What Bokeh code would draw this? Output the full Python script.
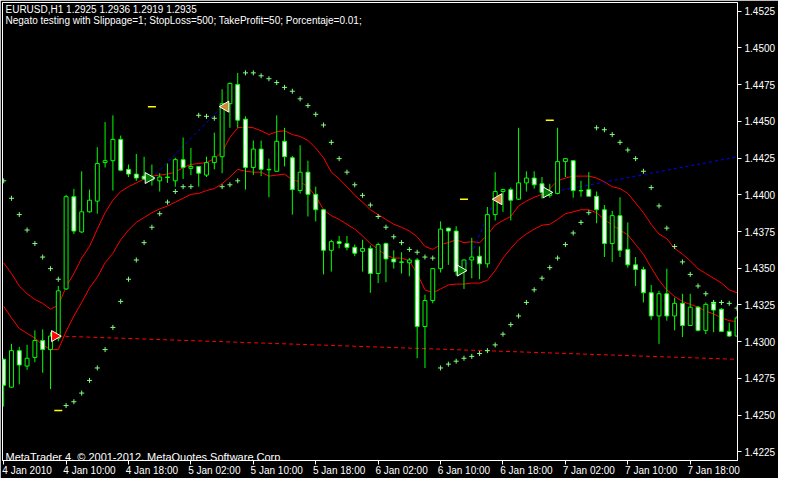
import numpy as np
from bokeh.plotting import figure
from bokeh.models import Range1d, LinearAxis, FixedTicker, PrintfTickFormatter, Label
from bokeh.embed import file_html
from bokeh.resources import INLINE

# ---------------- data (EURUSD H1, bar index 0 = 4 Jan 2010 first visible bar) -------------
open_ = [1.42880, 1.42690, 1.42939, 1.42834, 1.42893, 1.43008, 1.42946, 1.43024, 1.43359, 1.43987,
         1.43747, 1.43884, 1.43957, 1.44219, 1.44232, 1.44377, 1.44173, 1.44141, 1.44127, 1.44101,
         1.44095, 1.44121, 1.44095, 1.44239, 1.44180, 1.44193, 1.44134, 1.44219, 1.44259, 1.44620,
         1.44751, 1.44515, 1.44186, 1.44311, 1.44173, 1.44160, 1.44364, 1.44252, 1.44029, 1.44154,
         1.44003, 1.43898, 1.43622, 1.43681, 1.43668, 1.43642, 1.43615, 1.43635, 1.43464, 1.43668,
         1.43563, 1.43543, 1.43537, 1.43556, 1.43103, 1.43280, 1.43497, 1.43773, 1.43753, 1.43477,
         1.43556, 1.43582, 1.43530, 1.43865, 1.44022, 1.44035, 1.43970, 1.44081, 1.44114, 1.44075,
         1.43996, 1.44009, 1.44226, 1.44232, 1.44029, 1.44035, 1.43990, 1.43898, 1.43668, 1.43858,
         1.43628, 1.43523, 1.43491, 1.43333, 1.43175, 1.43326, 1.43175, 1.43261, 1.43110, 1.43235,
         1.43077, 1.43261, 1.43221, 1.43070, 1.43038]
high = [1.42887, 1.42985, 1.42965, 1.42979, 1.43077, 1.43084, 1.43064, 1.43379, 1.44000, 1.44040,
        1.44160, 1.44035, 1.44324, 1.44495, 1.44541, 1.44403, 1.44206, 1.44278, 1.44259, 1.44206,
        1.44147, 1.44213, 1.44252, 1.44390, 1.44318, 1.44196, 1.44259, 1.44423, 1.44718, 1.44764,
        1.44830, 1.44534, 1.44370, 1.44370, 1.44246, 1.44541, 1.44456, 1.44265, 1.44337, 1.44232,
        1.44055, 1.43904, 1.43694, 1.43720, 1.43720, 1.43661, 1.43694, 1.43655, 1.43674, 1.43674,
        1.43622, 1.43609, 1.43569, 1.43569, 1.43320, 1.43500, 1.43819, 1.43776, 1.43786, 1.43560,
        1.43707, 1.43648, 1.43917, 1.44154, 1.44040, 1.44049, 1.44456, 1.44160, 1.44160, 1.44121,
        1.44075, 1.44456, 1.44246, 1.44235, 1.44095, 1.44154, 1.44022, 1.43930, 1.43891, 1.43983,
        1.43812, 1.43576, 1.43510, 1.43386, 1.43346, 1.43497, 1.43300, 1.43326, 1.43326, 1.43243,
        1.43267, 1.43274, 1.43228, 1.43130, 1.43175]
low = [1.42558, 1.42685, 1.42709, 1.42808, 1.42860, 1.42788, 1.42677, 1.43002, 1.43352, 1.43733,
       1.43740, 1.43878, 1.43871, 1.44186, 1.44029, 1.44160, 1.44121, 1.44095, 1.44101, 1.44062,
       1.44022, 1.44081, 1.44055, 1.44108, 1.44134, 1.44055, 1.44121, 1.44173, 1.44147, 1.44456,
       1.44456, 1.44035, 1.44134, 1.44127, 1.43983, 1.44160, 1.44193, 1.43865, 1.44009, 1.43852,
       1.43819, 1.43458, 1.43477, 1.43635, 1.43622, 1.43582, 1.43477, 1.43333, 1.43399, 1.43405,
       1.43497, 1.43464, 1.43445, 1.42887, 1.42821, 1.43261, 1.43471, 1.43523, 1.43451, 1.43359,
       1.43431, 1.43425, 1.43504, 1.43825, 1.43884, 1.43825, 1.43965, 1.44022, 1.44042, 1.43974,
       1.43980, 1.44003, 1.44121, 1.43980, 1.43987, 1.44000, 1.43806, 1.43576, 1.43543, 1.43576,
       1.43504, 1.43379, 1.43267, 1.43149, 1.42985, 1.43143, 1.43077, 1.43031, 1.43107, 1.43070,
       1.43051, 1.43064, 1.43065, 1.43031, 1.43035]
close = [1.42703, 1.42939, 1.42841, 1.42887, 1.43008, 1.42946, 1.43038, 1.43346, 1.43987, 1.43753,
         1.43884, 1.43963, 1.44213, 1.44232, 1.44377, 1.44167, 1.44141, 1.44114, 1.44108, 1.44121,
         1.44121, 1.44118, 1.44239, 1.44186, 1.44193, 1.44147, 1.44219, 1.44259, 1.44620, 1.44758,
         1.44508, 1.44186, 1.44311, 1.44173, 1.44170, 1.44364, 1.44259, 1.44035, 1.44154, 1.44003,
         1.43898, 1.43622, 1.43681, 1.43668, 1.43642, 1.43602, 1.43635, 1.43464, 1.43661, 1.43563,
         1.43543, 1.43540, 1.43556, 1.43103, 1.43280, 1.43497, 1.43766, 1.43753, 1.43477, 1.43556,
         1.43576, 1.43530, 1.43865, 1.44022, 1.44035, 1.43963, 1.44081, 1.44114, 1.44068, 1.44016,
         1.44022, 1.44226, 1.44246, 1.44029, 1.44026, 1.43990, 1.43898, 1.43668, 1.43858, 1.43622,
         1.43523, 1.43491, 1.43333, 1.43175, 1.43326, 1.43175, 1.43261, 1.43110, 1.43235, 1.43077,
         1.43254, 1.43215, 1.43070, 1.43038, 1.43162]
upper_band = [1.43537, 1.43464, 1.43379, 1.43326, 1.43287, 1.43261, 1.43221, 1.43248, 1.43372, 1.43464,
              1.43569, 1.43648, 1.43766, 1.43878, 1.43963, 1.44022, 1.44055, 1.44081, 1.44108, 1.44127,
              1.44134, 1.44141, 1.44154, 1.44186, 1.44206, 1.44213, 1.44219, 1.44246, 1.44292, 1.44390,
              1.44456, 1.44462, 1.44456, 1.44436, 1.44410, 1.44429, 1.44436, 1.44410, 1.44397, 1.44370,
              1.44318, 1.44252, 1.44154, 1.44108, 1.44055, 1.43996, 1.43950, 1.43898, 1.43865, 1.43832,
              1.43799, 1.43779, 1.43753, 1.43714, 1.43648, 1.43628, 1.43661, 1.43674, 1.43694, 1.43674,
              1.43681, 1.43674, 1.43727, 1.43793, 1.43825, 1.43852, 1.43924, 1.43957, 1.43983, 1.44003,
              1.44042, 1.44095, 1.44114, 1.44127, 1.44127, 1.44127, 1.44114, 1.44088, 1.44055, 1.44042,
              1.44009, 1.43944, 1.43878, 1.43799, 1.43733, 1.43701, 1.43635, 1.43596, 1.43550, 1.43497,
              1.43464, 1.43432, 1.43399, 1.43353, 1.43333]
lower_band = [1.43241, 1.43162, 1.43090, 1.43057, 1.43024, 1.42978, 1.42946, 1.42946, 1.43070, 1.43175,
              1.43267, 1.43366, 1.43438, 1.43537, 1.43602, 1.43694, 1.43760, 1.43812, 1.43845, 1.43878,
              1.43904, 1.43924, 1.43950, 1.43976, 1.44003, 1.44009, 1.44029, 1.44042, 1.44075, 1.44121,
              1.44173, 1.44160, 1.44154, 1.44154, 1.44127, 1.44134, 1.44141, 1.44101, 1.44088, 1.44055,
              1.43990, 1.43898, 1.43858, 1.43832, 1.43799, 1.43766, 1.43720, 1.43668, 1.43628, 1.43589,
              1.43569, 1.43569, 1.43550, 1.43464, 1.43353, 1.43333, 1.43359, 1.43386, 1.43392, 1.43392,
              1.43399, 1.43399, 1.43418, 1.43484, 1.43569, 1.43635, 1.43694, 1.43733, 1.43766, 1.43793,
              1.43799, 1.43832, 1.43871, 1.43884, 1.43898, 1.43898, 1.43878, 1.43832, 1.43793, 1.43760,
              1.43727, 1.43661, 1.43596, 1.43504, 1.43418, 1.43353, 1.43307, 1.43274, 1.43254, 1.43235,
              1.43208, 1.43189, 1.43162, 1.43143, 1.43136]
sar = [1.44095, 1.43976, 1.43865, 1.43760, 1.43668, 1.43576, 1.43497, 1.43425, 1.42565, 1.42591,
       1.42650, 1.42736, 1.42821, 1.42946, 1.43097, 1.43274, 1.43425, 1.43556, 1.43674, 1.43779,
       1.43871, 1.43950, 1.44022, 1.44055, 1.44055, 1.44541, 1.44534, 1.44521, 1.44055, 1.44068,
       1.44095, 1.44830, 1.44830, 1.44810, 1.44790, 1.44764, 1.44731, 1.44705, 1.44653, 1.44607,
       1.44548, 1.44475, 1.44357, 1.44246, 1.44154, 1.44068, 1.43996, 1.43930, 1.43852, 1.43779,
       1.43714, 1.43674, 1.43628, 1.43609, 1.43576, 1.43569, 1.42821, 1.42847, 1.42867, 1.42887,
       1.42900, 1.42919, 1.42939, 1.42978, 1.43051, 1.43116, 1.43175, 1.43267, 1.43353, 1.43432,
       1.43504, 1.43569, 1.43661, 1.43740, 1.43812, 1.43878, 1.44456, 1.44443, 1.44410, 1.44357,
       1.44305, 1.44246, 1.44160, 1.44049, 1.43924, 1.43773, 1.43648, 1.43543, 1.43458, 1.43379,
       1.43326, 1.43267, 1.43267, 1.43261, 1.43228]

x_tick_bars = [0, 8, 16, 24, 32, 40, 48, 56, 64, 72, 80, 88]
x_tick_labels = ["4 Jan 2010", "4 Jan 10:00", "4 Jan 18:00", "5 Jan 02:00", "5 Jan 10:00",
                 "5 Jan 18:00", "6 Jan 02:00", "6 Jan 10:00", "6 Jan 18:00", "7 Jan 02:00",
                 "7 Jan 10:00", "7 Jan 18:00"]
y_ticks = [1.4225, 1.4250, 1.4275, 1.4300, 1.4325, 1.4350, 1.4375,
           1.4400, 1.4425, 1.4450, 1.4475, 1.4500, 1.4525]

trade_type = ["sell", "buy", "buy", "buy"]
trade_open_bar = [7, 19, 59, 70]
trade_open_price = [1.43038, 1.44114, 1.43484, 1.44016]
trade_close_bar = [95, 28, 63, 95]
trade_close_price = [1.42878, 1.44600, 1.43970, 1.44268]
trade_closed = [False, True, True, False]
trade_tp = [1.42532, 1.44600, 1.43970, 1.44508]

header_1 = "EURUSD,H1  1.2925 1.2936 1.2919 1.2935"
header_2 = "Negato testing with Slippage=1; StopLoss=500; TakeProfit=50; Porcentaje=0.01;"
footer = "MetaTrader 4, \u00a9 2001-2012, MetaQuotes Software Corp."

# ---------------- styling -------------
FONT = "Liberation Sans"
GREEN = "#00FF00"
SAR_COLOR = "#80FF80"

o = np.array(open_); h = np.array(high); l = np.array(low); c = np.array(close)
bars = np.arange(len(o))
bull = c > o
bear = ~bull

p = figure(width=778, height=478,
           x_range=Range1d(-0.15, 94.06), y_range=Range1d(1.42191, 1.45309),
           output_backend="svg", toolbar_location=None,
           x_axis_location=None, y_axis_location=None,
           background_fill_color="black", border_fill_color="black",
           outline_line_color="white", outline_line_width=1,
           min_border_left=2, min_border_top=2, min_border_right=0, min_border_bottom=0)
p.grid.grid_line_color = None

# right price axis
yaxis = LinearAxis(ticker=FixedTicker(ticks=y_ticks), formatter=PrintfTickFormatter(format="%.4f"))
yaxis.axis_line_color = "white"
yaxis.major_tick_line_color = "white"
yaxis.major_tick_in = 0
yaxis.major_tick_out = 4
yaxis.minor_tick_line_color = None
yaxis.major_label_text_color = "white"
yaxis.major_label_text_font = FONT
yaxis.major_label_text_font_size = "10px"
yaxis.major_label_standoff = 3
p.add_layout(yaxis, "right")

# bottom time axis: minor ticks mark the bars, labels start at each tick (MT4 style)
LABEL_SHIFT = 3
label_pos = [t + LABEL_SHIFT for t in x_tick_bars]
xaxis = LinearAxis(ticker=FixedTicker(ticks=label_pos, minor_ticks=x_tick_bars),
                   major_label_overrides={pos: lab for pos, lab in zip(label_pos, x_tick_labels)})
xaxis.axis_line_color = "white"
xaxis.major_tick_line_color = None
xaxis.major_tick_in = 0
xaxis.major_tick_out = 4
xaxis.minor_tick_line_color = "white"
xaxis.minor_tick_in = 0
xaxis.minor_tick_out = 4
xaxis.major_label_text_color = "white"
xaxis.major_label_text_font = FONT
xaxis.major_label_text_font_size = "10px"
xaxis.major_label_standoff = 0
p.add_layout(xaxis, "below")

# envelopes
p.line(bars, upper_band, line_color="red", line_width=1)
p.line(bars, lower_band, line_color="red", line_width=1)

# trade lines
for kind, color, dash in (("sell", "red", "4 3"), ("buy", "blue", "3 3")):
    idx = [i for i, t in enumerate(trade_type) if t == kind]
    p.segment(x0=[trade_open_bar[i] for i in idx], y0=[trade_open_price[i] for i in idx],
              x1=[trade_close_bar[i] for i in idx], y1=[trade_close_price[i] for i in idx],
              line_color=color, line_width=1, line_dash=dash)

# candlesticks
p.segment(bars, h, bars, l, line_color=GREEN, line_width=1)
p.vbar(x=bars[bull], width=0.5, top=c[bull], bottom=o[bull],
       fill_color="black", line_color=GREEN, line_width=1)
p.vbar(x=bars[bear], width=0.5, top=o[bear], bottom=c[bear],
       fill_color="white", line_color=GREEN, line_width=1)

# parabolic SAR
p.scatter(bars, sar, marker="cross", size=5, line_color=SAR_COLOR, line_width=1)

# take-profit marks
p.scatter(trade_open_bar, trade_tp, marker="dash", size=8, line_color="yellow", line_width=1.5)

# open arrows (left of the open bar, pointing right)
open_colors = ["red" if t == "sell" else "#007A00" for t in trade_type]
p.scatter([b - 0.45 for b in trade_open_bar], trade_open_price, marker="triangle",
          angle=-np.pi / 2, size=11, fill_color=open_colors, line_color="white", line_width=1)

# close arrows (right of the close bar, pointing left)
cb = [b for b, k in zip(trade_close_bar, trade_closed) if k]
cp = [pr for pr, k in zip(trade_close_price, trade_closed) if k]
p.scatter([b + 0.45 for b in cb], cp, marker="triangle", angle=np.pi / 2, size=11,
          fill_color="#CC8833", line_color="white", line_width=1)

# texts
top = p.y_range.end
bottom = p.y_range.start
p.add_layout(Label(x=3, x_units="screen", y=top - 0.00013, text=header_1,
                   text_color="white", text_font=FONT, text_font_size="10px", text_baseline="top"))
p.add_layout(Label(x=3, x_units="screen", y=top - 0.00085, text=header_2,
                   text_color="white", text_font=FONT, text_font_size="10px", text_baseline="top"))
p.add_layout(Label(x=3, x_units="screen", y=bottom + 0.00023, text=footer,
                   text_color="white", text_font=FONT, text_font_size="11px", text_baseline="alphabetic"))

open("out.html", "w").write(file_html(p, INLINE))
